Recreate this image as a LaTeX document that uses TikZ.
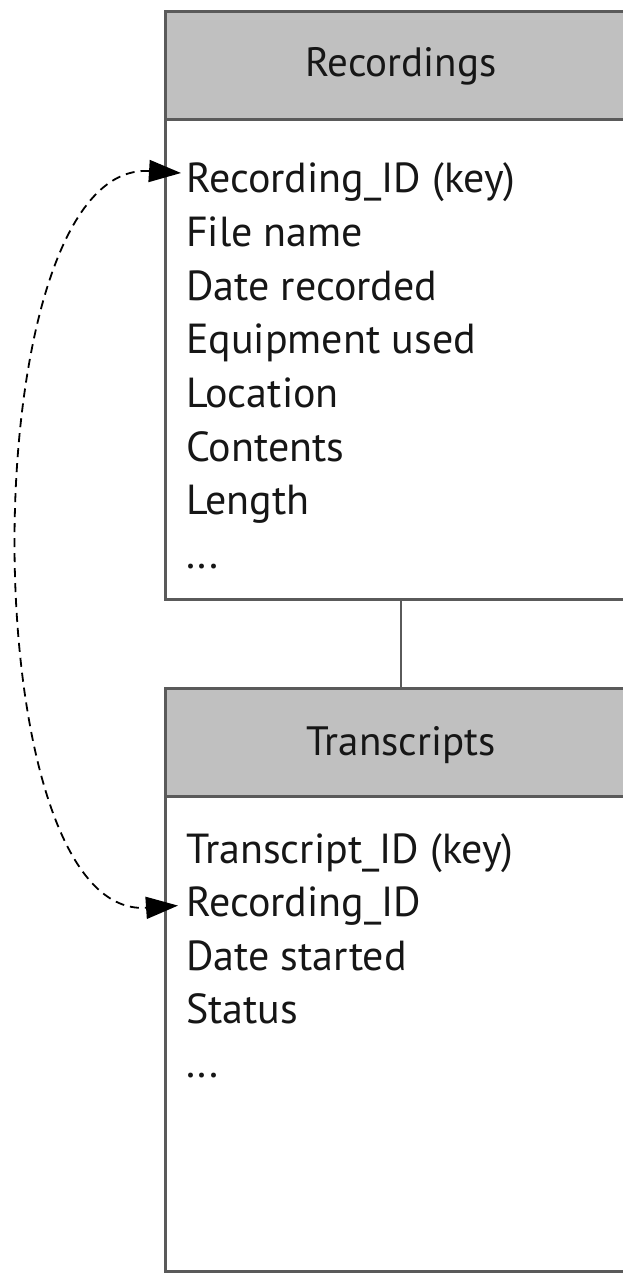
\documentclass[tikz,border=0pt]{standalone}
\usepackage{fontspec}
\setmainfont{PT Sans}
\usetikzlibrary{arrows.meta,calc}
\definecolor{hdrgray}{HTML}{C0C0C0}
\definecolor{edge}{HTML}{5A5A5A}
\definecolor{ink}{HTML}{161616}
\begin{document}
\begin{tikzpicture}[x=1pt,y=1pt,
  header/.style={draw=edge, line width=3pt, fill=hdrgray, minimum width=472pt, minimum height=108pt, inner sep=0pt, outer sep=0pt},
  tbody/.style={draw=edge, line width=3pt, fill=white, minimum width=472pt, inner sep=0pt, outer sep=0pt},
  field/.style={anchor=base west, inner sep=0pt, text=ink, font=\fontsize{42}{50}\selectfont},
  title/.style={anchor=base, inner sep=0pt, text=ink, font=\fontsize{41}{50}\selectfont},
  link/.style={draw=edge, line width=2pt},
  fk/.style={dash pattern=on 9pt off 6pt, line width=1.8pt, {Triangle[length=32pt,width=22pt]}-{Triangle[length=32pt,width=22pt]}}
]
\useasboundingbox (0,0) rectangle (623,-1273);
\clip (0,0) rectangle (623,-1273);
% Recordings table
\node[header] (rechead) at (401,-66) {};
\node[tbody, minimum height=479pt] (recbody) at (401,-359.5) {};
\node[title] (rectitle) at (401,-77) {Recordings};
% Transcripts table
\node[header] (tranhead) at (401,-742) {};
\node[tbody, minimum height=475pt] (tranbody) at (401,-1033.5) {};
\node[title] (trantitle) at (401,-755) {Transcripts};
% fields
\node[field] (r1) at (186,-193) {Recording\_ID (key)};
\node[field] (r2) at (186,-246.6) {File name};
\node[field] (r3) at (186,-300.2) {Date recorded};
\node[field] (r4) at (186,-353.8) {Equipment used};
\node[field] (r5) at (186,-407.4) {Location};
\node[field] (r6) at (186,-461) {Contents};
\node[field] (r7) at (186,-514.6) {Length};
\node[field] (r8) at (186,-568.2) {...};
\node[field] (t1) at (186,-863) {Transcript\_ID (key)};
\node[field] (t2) at (186,-916.6) {Recording\_ID};
\node[field] (t3) at (186,-970.2) {Date started};
\node[field] (t4) at (186,-1023.8) {Status};
\node[field] (t5) at (186,-1077.4) {...};
% connectors
\draw[link] (recbody.south) -- (tranhead.north);
\coordinate (a1) at ($(r1.base west)+(-5,20)$);
\coordinate (a2) at ($(t2.base west)+(-8,11)$);
\draw[fk] (a1) .. controls (-30,-160) and (-30,-920) .. (a2);
\end{tikzpicture}
\end{document}
